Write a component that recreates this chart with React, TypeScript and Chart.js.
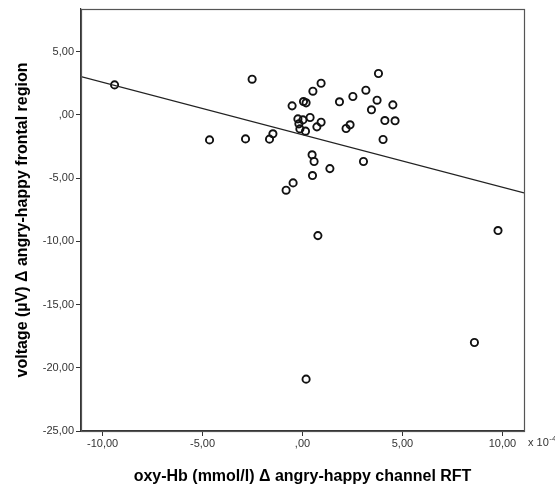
import React, { useEffect, useRef } from "react";
import { Chart, registerables } from "chart.js";

Chart.register(...registerables);

// oxy-Hb (x 10^-4 mmol/l) Δ angry-happy channel RFT
const xValues = [
  -9.4, -4.65, -2.52, -2.85, -1.65, -1.48, -0.52, 0.05, 0.18, 0.52, 0.93,
  -0.23, 0.02, 0.38, -0.18, -0.13, 0.15, 0.72, 0.93, 1.85, 2.52, 2.18, 2.38,
  3.17, 3.8, 3.73, 3.45, 4.52, 4.12, 4.63, 4.03, 0.48, 0.58, 1.37, 3.05, 0.5,
  -0.47, -0.82, 0.77, 9.78, 8.6, 0.18,
];
// voltage (µV) Δ angry-happy frontal region
const yValues = [
  2.37, -1.98, 2.82, -1.9, -1.92, -1.5, 0.71, 1.05, 0.95, 1.87, 2.5, -0.32,
  -0.4, -0.21, -0.71, -1.11, -1.29, -0.95, -0.58, 1.03, 1.45, -1.08, -0.79,
  1.95, 3.27, 1.16, 0.4, 0.79, -0.45, -0.47, -1.95, -3.16, -3.69, -4.25, -3.69,
  -4.8, -5.38, -5.96, -9.55, -9.15, -18.0, -20.9,
];
// fit line (linear regression)
const fitIntercept = -1.57;
const fitSlope = -0.415;

const xTicks = [-10, -5, 0, 5, 10];
const yTicks = [-25, -20, -15, -10, -5, 0, 5];
const xRange = [-11.08, 11.08];
const yRange = [-25, 8.37];

const fmt = (v: number) =>
  v === 0 ? ",00" : v.toFixed(2).replace(".", ",");

const framePlugin = {
  id: "frame",
  afterDraw(chart: any) {
    const { ctx, chartArea } = chart;
    ctx.save();
    ctx.strokeStyle = "#555";
    ctx.lineWidth = 1.2;
    ctx.strokeRect(
      Math.round(chartArea.left) + 0.5,
      Math.round(chartArea.top) + 0.5,
      Math.round(chartArea.right - chartArea.left),
      Math.round(chartArea.bottom - chartArea.top)
    );
    ctx.fillStyle = "#333";
    ctx.textBaseline = "alphabetic";
    ctx.textAlign = "left";
    ctx.font = "11px 'Liberation Sans', Arial, sans-serif";
    const x0 = chartArea.right + 4;
    const y0 = chartArea.bottom + 15;
    ctx.fillText("x 10", x0, y0);
    const w = ctx.measureText("x 10").width;
    ctx.font = "8px 'Liberation Sans', Arial, sans-serif";
    ctx.fillText("-4", x0 + w + 0.5, y0 - 5);
    ctx.restore();
  },
};

export default function App() {
  const ref = useRef<HTMLCanvasElement>(null);
  useEffect(() => {
    if (!ref.current) return;
    const points = xValues.map((x, i) => ({ x, y: yValues[i] }));
    const fit = xRange.map((x) => ({ x, y: fitIntercept + fitSlope * x }));
    const tickFont = { family: "'Liberation Sans', Arial, sans-serif", size: 11 };
    const titleFont = {
      family: "'Liberation Sans', Arial, sans-serif",
      size: 16,
      weight: "bold" as const,
    };
    const chart = new Chart(ref.current, {
      type: "scatter",
      data: {
        datasets: [
          {
            type: "line",
            data: fit,
            borderColor: "#222",
            borderWidth: 1.3,
            pointRadius: 0,
            fill: false,
          },
          {
            data: points,
            pointRadius: 3.6,
            pointBorderWidth: 1.9,
            pointBackgroundColor: "rgba(255,255,255,0)",
            pointBorderColor: "#111",
          },
        ],
      },
      options: {
        animation: false,
        responsive: false,
        layout: { padding: { top: 9, right: 31, left: 0, bottom: 0 } },
        plugins: { legend: { display: false }, tooltip: { enabled: false } },
        scales: {
          x: {
            type: "linear",
            min: xRange[0],
            max: xRange[1],
            afterBuildTicks: (s: any) => {
              s.ticks = xTicks.map((v) => ({ value: v }));
            },
            afterFit: (s: any) => {
              s.height = 57;
            },
            grid: {
              drawOnChartArea: false,
              drawTicks: true,
              tickLength: 5,
              color: "#333",
            },
            border: { display: true, color: "#333", width: 1.2 },
            ticks: {
              font: tickFont,
              color: "#333",
              padding: 1,
              maxRotation: 0,
              callback: (v: any) => fmt(Number(v)),
            },
            title: {
              display: true,
              text: "oxy-Hb (mmol/l) Δ angry-happy channel RFT",
              font: titleFont,
              color: "#000",
              padding: { top: 0, bottom: 1.5 },
            },
          },
          y: {
            type: "linear",
            min: yRange[0],
            max: yRange[1],
            afterBuildTicks: (s: any) => {
              s.ticks = yTicks.map((v) => ({ value: v }));
            },
            afterFit: (s: any) => {
              s.width = 81;
            },
            grid: {
              drawOnChartArea: false,
              drawTicks: true,
              tickLength: 5,
              color: "#333",
            },
            border: { display: true, color: "#333", width: 1.2 },
            ticks: {
              font: tickFont,
              color: "#333",
              padding: 2,
              callback: (v: any) => fmt(Number(v)),
            },
            title: {
              display: true,
              text: "voltage (µV) Δ angry-happy frontal region",
              font: titleFont,
              color: "#000",
              padding: { top: 12.5, bottom: 0 },
            },
          },
        },
      },
      plugins: [framePlugin],
    });
    return () => chart.destroy();
  }, []);
  return (
    <div style={{ position: "fixed", left: 0, top: 0, width: 555, height: 488, background: "#fff" }}>
      <canvas ref={ref} width={555} height={488} />
    </div>
  );
}
